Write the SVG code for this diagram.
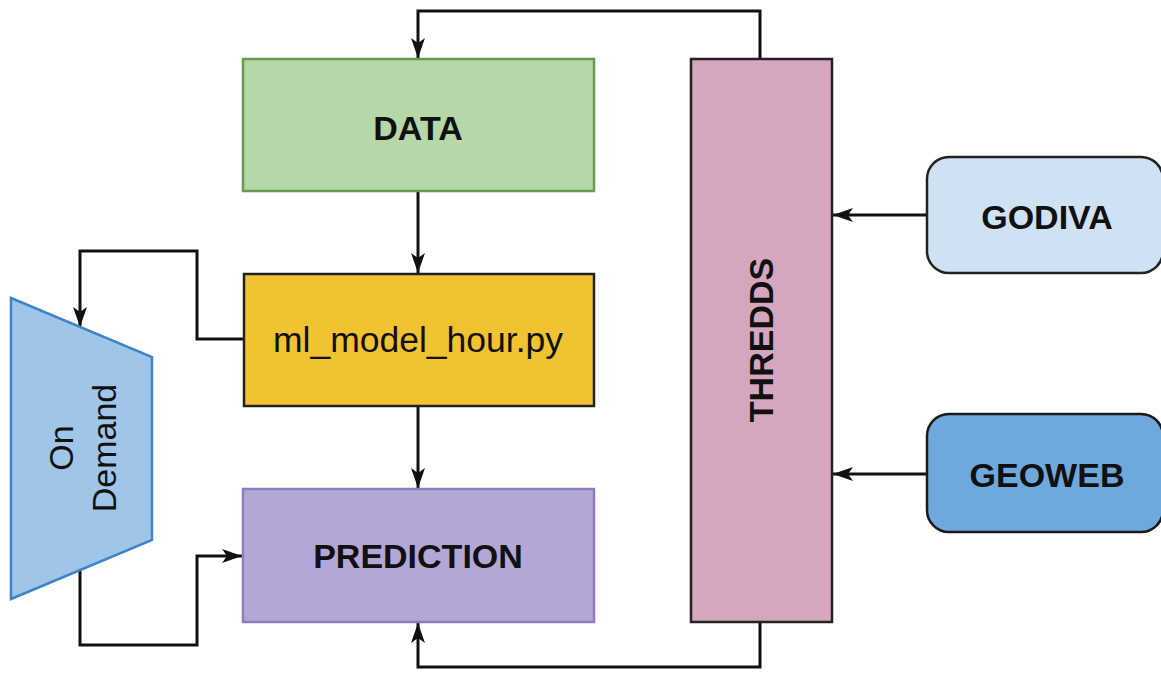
<svg xmlns="http://www.w3.org/2000/svg" width="1161" height="674" viewBox="0 0 1161 674">
<defs>
<marker id="arr" markerUnits="userSpaceOnUse" markerWidth="21" markerHeight="16" refX="20" refY="8" orient="auto">
<path d="M0,1 L20,8 L0,15 L5,8 Z" fill="#111"/>
</marker>
</defs>
<style>
.lbl{font-family:"Liberation Sans",Arial,sans-serif;font-size:34px;fill:#111;text-anchor:middle;dominant-baseline:central}
.b{font-weight:bold}
.conn{fill:none;stroke:#111;stroke-width:3}
</style>
<rect width="1161" height="674" fill="#fff"/>
<g id="connectors">
<path class="conn" d="M760,59 V11 H418 V58" marker-end="url(#arr)"/>
<path class="conn" d="M418,191 V273" marker-end="url(#arr)"/>
<path class="conn" d="M418,406 V488" marker-end="url(#arr)"/>
<path class="conn" d="M244,339 H197 V251 H80 V327" marker-end="url(#arr)"/>
<path class="conn" d="M80,569 V645 H197 V556 H242" marker-end="url(#arr)"/>
<path class="conn" d="M760,622 V667 H418 V623" marker-end="url(#arr)"/>
<path class="conn" d="M927,215 H833" marker-end="url(#arr)"/>
<path class="conn" d="M927,474 H833" marker-end="url(#arr)"/>
</g>
<g id="data">
<rect x="243" y="59" width="351" height="132" fill="#b6d7a8" stroke="#6a9a50" stroke-width="2.5"/>
<text class="lbl b" x="418" y="128">DATA</text>
</g>
<g id="ml_model">
<rect x="244" y="274" width="350" height="132" fill="#f1c232" stroke="#222" stroke-width="2.5"/>
<text class="lbl" x="418" y="340" style="font-size:35.5px">ml_model_hour.py</text>
</g>
<g id="prediction">
<rect x="243" y="489" width="351" height="133" fill="#b4a7d6" stroke="#8e7cc3" stroke-width="2.5"/>
<text class="lbl b" x="418" y="556">PREDICTION</text>
</g>
<g id="thredds">
<rect x="691" y="59" width="141" height="563" fill="#d5a6bd" stroke="#222" stroke-width="2.5"/>
<text class="lbl b" transform="translate(761,340) rotate(-90)">THREDDS</text>
</g>
<g id="godiva">
<rect x="927" y="157" width="236" height="116" rx="22" fill="#cfe2f3" stroke="#222" stroke-width="2.5"/>
<text class="lbl b" x="1047" y="217">GODIVA</text>
</g>
<g id="geoweb">
<rect x="927" y="414" width="236" height="118" rx="22" fill="#6fa8dc" stroke="#1a1a1a" stroke-width="2.5"/>
<text class="lbl b" x="1047" y="475">GEOWEB</text>
</g>
<g id="on_demand">
<polygon points="11,298 152,357 152,540 11,599" fill="#9fc5e8" stroke="#3d85c6" stroke-width="2.5"/>
<text class="lbl" transform="translate(61,448) rotate(-90)">On</text>
<text class="lbl" transform="translate(104,448) rotate(-90)">Demand</text>
</g>
</svg>
